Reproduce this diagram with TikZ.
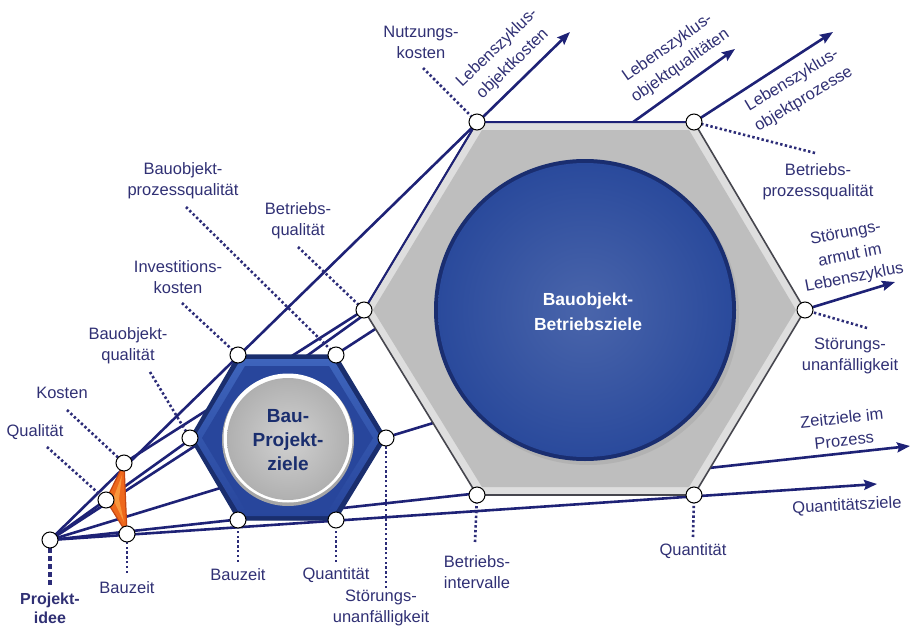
\documentclass[tikz,border=0pt]{standalone}
\usepackage{fontspec}
\setmainfont{Liberation Sans}
\usetikzlibrary{arrows.meta}
\definecolor{navy}{RGB}{30,34,118}
\definecolor{labelc}{RGB}{48,48,116}
\definecolor{dotc}{RGB}{44,44,120}
\definecolor{hexblue}{RGB}{40,70,156}
\definecolor{hexblueL}{RGB}{62,100,188}
\definecolor{hexblueD}{RGB}{26,46,110}
\definecolor{rimgray}{RGB}{222,222,222}
\definecolor{bodygray}{RGB}{190,190,190}
\definecolor{edgegray}{RGB}{70,70,78}
\definecolor{discblue}{RGB}{42,74,156}
\definecolor{discblueD}{RGB}{26,46,112}
\definecolor{trifill}{RGB}{238,104,28}
\definecolor{trilight}{RGB}{248,150,60}
\definecolor{tridark}{RGB}{196,70,18}
\begin{document}
\begin{tikzpicture}[x=1pt,y=-1pt,
  ray/.style={navy,line width=2.6pt},
  arrowray/.style={ray,-{Stealth[length=13pt,width=10pt,inset=2pt]}},
  dotline/.style={dotc,line width=2.6pt,dash pattern=on 2.4pt off 2.4pt},
  ideadash/.style={dotc,line width=3.6pt,dash pattern=on 5pt off 3pt},
  vtx/.style={circle,draw=black,fill=white,line width=1pt,minimum size=16pt,inner sep=0pt},
  lbl/.style={labelc,align=center,font=\fontsize{16.5}{21}\selectfont,inner sep=0pt},
  rlbl/.style={lbl,font=\fontsize{16.5}{22.5}\selectfont},
]
\useasboundingbox (0,0) rectangle (918,626);

% ---------- key points ----------
\coordinate (O) at (50,540);
% first level: triangle
\coordinate (tT) at (124,463);
\coordinate (tL) at (106,500);
\coordinate (tB) at (127,534);
% second level: small hexagon
\coordinate (sTL) at (238,355);
\coordinate (sTR) at (336,355);
\coordinate (sR)  at (386,438);
\coordinate (sBR) at (336,520);
\coordinate (sBL) at (238,520);
\coordinate (sL)  at (190,438);
% third level: large hexagon
\coordinate (bTL) at (477,122);
\coordinate (bTR) at (694,122);
\coordinate (bR)  at (805,310);
\coordinate (bBR) at (694,495);
\coordinate (bBL) at (477,495);
\coordinate (bL)  at (364,310);
% arrow tips
\coordinate (a1) at (570,32);
\coordinate (a2) at (833,32);
\coordinate (a3) at (735,49);
\coordinate (a4) at (895,282);
\coordinate (a5) at (910,446);
\coordinate (a6) at (877,484);

% ---------- rays from the project idea ----------
\draw[arrowray] (O) -- (a1);
\draw[arrowray] (O) -- (a2);
\draw[arrowray] (O) -- (a3);
\draw[arrowray] (O) -- (a4);
\draw[arrowray] (O) -- (a5);
\draw[arrowray] (O) -- (a6);
\draw[ray] (tT) -- (bL);

% ---------- triangle ----------
\filldraw[fill=trifill,draw=tridark,line width=1.2pt,line join=round]
  (tT) -- (tL) -- (tB) -- cycle;
\fill[trilight] (122,475) -- (113,499) -- (124,522) -- (119,499) -- cycle;

% ---------- small hexagon ----------
\filldraw[fill=hexblueD,draw=hexblueD,line width=1.2pt,line join=round]
  (sTL) -- (sTR) -- (sR) -- (sBR) -- (sBL) -- (sL) -- cycle;
\shade[top color=hexblueL,bottom color=hexblue]
  (241,359) -- (333,359) -- (381,438) -- (333,516) -- (241,516) -- (194,438) -- cycle;
\fill[hexblue] (245,366) -- (329,366) -- (373,438) -- (329,509) -- (245,509) -- (202,438) -- cycle;
% disc
\fill[gray!70] (288,440) circle (66);
\fill[white] (288,438) circle (64.5);
\shade[inner color=gray!36,outer color=gray!62] (288,439) circle (61);
\node[font=\fontsize{19}{24}\selectfont\bfseries,text=hexblueD,align=center] (smalltitle) at (288,440) {Bau-\\Projekt-\\ziele};

% ---------- large hexagon ----------
\filldraw[fill=rimgray,draw=edgegray,line width=1.6pt,line join=round]
  (bTL) -- (bTR) -- (bR) -- (bBR) -- (bBL) -- (bL) -- cycle;
\fill[bodygray] (482,130) -- (689,130) -- (796,310) -- (689,487) -- (482,487) -- (373,310) -- cycle;
\draw[navy,line width=2pt,line join=round] (bL) -- (bTL) -- (bTR);
% disc
\fill[black!30] (588,314) circle (151);
\fill[discblueD] (585,310) circle (151);
\shade[inner color=discblue!85!white,outer color=discblue] (585,310) circle (147);
\node[font=\fontsize{17.5}{25}\selectfont\bfseries,text=white,align=center] (bigtitle) at (588,312) {Bauobjekt-\\Betriebsziele};

% ---------- label anchors for the leader lines ----------
\coordinate (dQual)   at (47,447);
\coordinate (dKost)   at (67,410);
\coordinate (dBauz)   at (127,573);
\coordinate (dIdee)   at (50,585);
\coordinate (dBoQ)    at (150,372);
\coordinate (dInv)    at (182,303);
\coordinate (dBoPQ)   at (186,207);
\coordinate (dBetrQ)  at (298,247);
\coordinate (dNutz)   at (423,68);
\coordinate (dBetrPQ) at (815,153);
\coordinate (dStoerR) at (867,328);
\coordinate (dQuantB) at (693,537);
\coordinate (dIntv)   at (475,542);
\coordinate (dStoerB) at (386,588);
\coordinate (dQuantS) at (336,562);
\coordinate (dBauzS)  at (238,562);

\draw[dotline] (dQual) -- (tL);
\draw[dotline] (dKost) -- (tT);
\draw[dotline] (dBauz) -- (tB);
\draw[ideadash] (dIdee) -- (O);
\draw[dotline] (dBoQ) -- (sL);
\draw[dotline] (dInv) -- (sTL);
\draw[dotline] (dBoPQ) -- (sTR);
\draw[dotline] (dBetrQ) -- (bL);
\draw[dotline] (dNutz) -- (bTL);
\draw[dotline] (dBetrPQ) -- (bTR);
\draw[dotline] (dStoerR) -- (bR);
\draw[dotline] (dQuantB) -- (bBR);
\draw[dotline] (dIntv) -- (bBL);
\draw[dotline] (dStoerB) -- (sR);
\draw[dotline] (dQuantS) -- (sBR);
\draw[dotline] (dBauzS) -- (sBL);

% ---------- vertex markers ----------
\foreach \p in {O,tT,tL,tB,sTL,sTR,sR,sBR,sBL,sL,bTL,bTR,bR,bBR,bBL,bL}
  \node[vtx] (v\p) at (\p) {};

% ---------- labels ----------
\node[lbl] (lQual) at (35,432) {Qualität};
\node[lbl] (lKost) at (62,393) {Kosten};
\node[lbl] (lBauz) at (127,588) {Bauzeit};
\node[lbl,font=\fontsize{16}{19}\selectfont\bfseries] (lIdee) at (50,608) {Projekt-\\idee};
\node[lbl] (lBoQ) at (128,346) {Bauobjekt-\\qualität};
\node[lbl] (lInv) at (178,277) {Investitions-\\kosten};
\node[lbl] (lBoPQ) at (183,181) {Bauobjekt-\\prozessqualität};
\node[lbl] (lBetrQ) at (298,221) {Betriebs-\\qualität};
\node[lbl] (lNutz) at (421,42) {Nutzungs-\\kosten};
\node[rlbl,rotate=44] (lLzK) at (505,56) {Lebenszyklus-\\objektkosten};
\node[rlbl,rotate=35] (lLzQ) at (674,57) {Lebenszyklus-\\objektqualitäten};
\node[rlbl,rotate=31] (lLzP) at (798,90) {Lebenszyklus-\\objektprozesse};
\node[lbl] (lBetrPQ) at (818,182) {Betriebs-\\prozessqualität};
\node[rlbl,rotate=11] (lArmut) at (850,256) {Störungs-\\armut im\\Lebenszyklus};
\node[lbl] (lStoerR) at (850,356) {Störungs-\\unanfälligkeit};
\node[rlbl,rotate=6] (lZeit) at (843,429) {Zeitziele im\\Prozess};
\node[lbl,rotate=3] (lQziel) at (847,506) {Quantitätsziele};
\node[lbl] (lQuantB) at (693,551) {Quantität};
\node[lbl] (lIntv) at (477,572) {Betriebs-\\intervalle};
\node[lbl] (lStoerB) at (381,608) {Störungs-\\unanfälligkeit};
\node[lbl] (lQuantS) at (336,575) {Quantität};
\node[lbl] (lBauzS) at (238,575) {Bauzeit};
\end{tikzpicture}
\end{document}
